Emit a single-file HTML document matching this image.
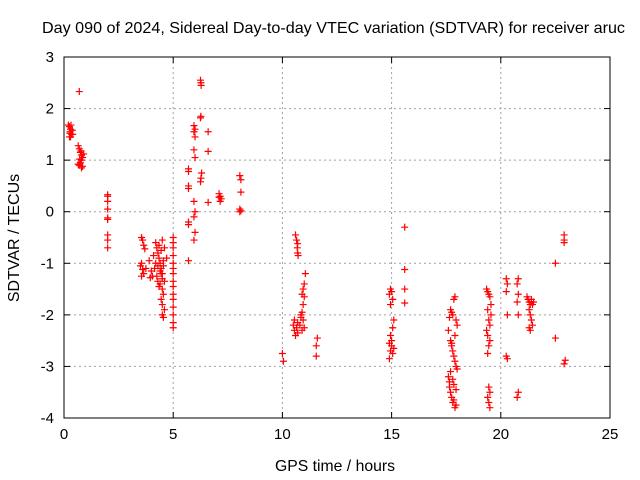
<!DOCTYPE html>
<html><head><meta charset="utf-8"><style>
body{margin:0;background:#fff;width:640px;height:480px;overflow:hidden}
svg{display:block;font-family:"Liberation Sans",sans-serif}
</style></head><body>
<svg id="chart" width="640" height="480">
<text x="42" y="33" font-size="16" textLength="583" lengthAdjust="spacingAndGlyphs">Day 090 of 2024, Sidereal Day-to-day VTEC variation (SDTVAR) for receiver aruc</text>
<text x="335" y="471" font-size="16" text-anchor="middle" textLength="120" lengthAdjust="spacingAndGlyphs">GPS time / hours</text>
<text x="0" y="0" font-size="16" text-anchor="middle" transform="translate(19,238) rotate(-90)">SDTVAR / TECUs</text>
<g id="grid"></g><g id="ticks"></g><g id="marks"></g>
<rect x="64" y="57" width="546" height="361" fill="none" stroke="#000" stroke-width="1"/>
</svg>
<script>
const xTicks=[0,5,10,15,20,25];
const yTicks=[3,2,1,0,-1,-2,-3,-4];
const xs=[0.2,0.25,0.3,0.28,0.35,0.3,0.4,0.25,0.38,0.32,0.27,0.7,
0.65,0.7,0.75,0.8,0.85,0.8,0.75,0.7,0.8,0.65,0.85,0.9,0.78,0.72,
2.0,2.0,2.0,2.0,2.0,2.0,2.0,2.0,2.0,
3.55,3.6,3.65,3.7,3.55,3.5,3.6,3.65,3.55,3.75,3.9,4.0,4.05,3.95,
4.1,4.2,4.25,4.3,4.35,4.4,4.45,4.5,4.2,4.3,4.4,4.5,4.6,4.15,4.25,4.35,4.45,4.55,4.3,4.4,4.5,4.6,4.7,4.35,4.45,4.55,4.5,4.55,4.45,4.5,4.6,4.5,4.55,
5.0,5.0,5.0,5.0,5.0,5.0,5.0,5.0,5.0,5.0,5.0,5.0,5.0,5.0,5.0,
5.7,5.7,5.7,5.7,5.7,5.7,5.7,
5.95,6.0,5.95,6.0,5.95,6.0,5.95,6.0,5.95,6.0,5.95,
6.25,6.27,6.28,6.27,6.25,6.3,6.27,6.25,6.6,6.6,6.6,7.1,7.15,7.2,7.1,7.15,8.05,8.1,8.1,8.05,8.1,8.05,
10.0,10.05,10.6,10.65,10.7,10.68,10.7,10.72,
10.55,10.5,10.55,10.6,10.65,10.7,10.7,10.8,10.85,10.9,10.95,10.9,10.95,11.0,10.95,11.0,10.9,11.05,11.0,10.85,
11.6,11.55,11.55,
14.95,15.0,14.9,15.05,14.95,15.1,15.05,14.95,14.9,15.0,14.95,15.05,14.9,15.1,15.0,
15.6,15.6,15.6,15.6,
17.6,17.65,17.7,17.75,17.8,17.85,17.9,17.95,18.0,17.7,17.75,17.8,17.85,17.9,17.95,17.6,17.65,17.7,17.8,17.9,17.85,17.95,18.0,17.75,17.8,17.85,17.9,17.95,17.65,17.7,17.75,
19.35,19.4,19.45,19.5,19.55,19.4,19.45,19.5,19.35,19.4,19.5,19.45,19.55,19.4,19.45,19.5,19.4,19.45,19.5,
20.25,20.3,20.25,20.3,20.25,20.3,20.8,20.75,20.8,20.75,20.8,20.75,20.8,
21.2,21.25,21.3,21.35,21.4,21.3,21.35,21.4,21.45,21.3,21.35,21.4,21.45,21.5,
22.5,22.5,22.9,22.9,22.9,22.95,22.9];
const ys=[1.68,1.65,1.6,1.55,1.5,1.45,1.5,1.45,1.58,1.68,1.52,2.33,
1.28,1.22,1.15,1.1,1.05,1.0,0.95,0.9,0.85,0.92,0.88,1.12,1.18,1.02,
0.33,0.3,0.2,0.05,-0.12,-0.15,-0.45,-0.55,-0.7,
-0.5,-0.55,-0.65,-0.72,-1.0,-1.05,-1.12,-1.2,-1.25,-1.1,-0.95,-1.15,-1.25,-1.28,
-0.85,-0.6,-0.7,-0.8,-0.9,-1.0,-1.1,-1.2,-1.0,-1.05,-1.15,-1.3,-1.35,-1.1,-1.25,-0.65,-0.75,-0.95,-1.35,-1.4,-0.55,-0.7,-0.9,-1.45,-1.2,-1.05,-1.5,-1.6,-1.7,-1.8,-1.9,-2.0,-2.05,
-0.5,-0.6,-0.7,-0.85,-1.0,-1.1,-1.2,-1.35,-1.45,-1.6,-1.7,-1.85,-2.0,-2.15,-2.25,
0.83,0.78,0.5,0.45,-0.2,-0.25,-0.95,
1.67,1.6,1.55,1.45,1.2,1.05,0.2,0.0,-0.1,-0.4,-0.55,
2.55,2.5,2.45,1.85,1.82,0.75,0.65,0.58,1.55,1.17,0.18,0.35,0.3,0.25,0.28,0.2,0.7,0.62,0.38,0.05,0.02,0.0,
-2.75,-2.9,-0.45,-0.55,-0.62,-0.7,-0.8,-0.85,
-2.1,-2.2,-2.3,-2.4,-2.25,-2.15,-2.35,-2.2,-2.05,-1.95,-1.8,-1.6,-1.5,-1.65,-2.1,-2.25,-2.3,-1.2,-1.4,-2.0,
-2.45,-2.6,-2.8,
-1.5,-1.55,-1.6,-1.7,-1.8,-2.1,-2.25,-2.4,-2.55,-2.6,-2.7,-2.75,-2.85,-2.65,-2.5,
-0.3,-1.12,-1.5,-1.77,
-2.3,-2.05,-1.9,-1.95,-2.0,-1.7,-1.65,-2.1,-2.2,-2.5,-2.6,-2.7,-2.8,-2.9,-3.0,-3.2,-3.3,-3.1,-3.25,-2.4,-3.35,-3.45,-3.05,-3.6,-3.7,-3.65,-3.8,-3.75,-3.4,-3.5,-2.55,
-1.5,-1.55,-1.6,-1.65,-1.8,-1.9,-2.1,-2.2,-2.3,-2.4,-2.5,-2.6,-2.0,-2.75,-3.4,-3.5,-3.6,-3.7,-3.8,
-1.3,-1.4,-1.55,-2.0,-2.8,-2.85,-1.3,-1.4,-1.6,-1.75,-3.5,-3.6,-2.0,
-1.65,-1.7,-1.75,-1.8,-1.75,-1.9,-2.0,-2.1,-2.2,-2.25,-2.3,-1.7,-1.8,-1.75,
-1.0,-2.45,-0.45,-0.55,-0.6,-2.88,-2.95];
const L=64,R=610,T=57,B=418;
function sx(v){return L+(v-0)/(25-0)*(R-L);}
function sy(v){return T+(3-v)/(3+4)*(B-T);}
const NS='http://www.w3.org/2000/svg';
const grid=document.getElementById('grid'),ticks=document.getElementById('ticks'),marks=document.getElementById('marks');
function mk(tag,attrs,parent){const e=document.createElementNS(NS,tag);for(const k in attrs)e.setAttribute(k,attrs[k]);parent.appendChild(e);return e;}
xTicks.forEach(t=>{const x=sx(t);
 if(t>0&&t<25){const g=mk('line',{x1:x,x2:x,y1:T,y2:B,stroke:'#a0a0a0','stroke-dasharray':'2,3'},grid);
 
 }
 mk('line',{x1:x,x2:x,y1:B,y2:B-6,stroke:'#000'},ticks);
 mk('line',{x1:x,x2:x,y1:T,y2:T+6,stroke:'#000'},ticks);
 const tx=mk('text',{x:x,y:B+21,'font-size':15,'text-anchor':'middle'},ticks);tx.textContent=t;
 
 });
yTicks.forEach(t=>{const y=sy(t);
 if(t<3&&t>-4){const g=mk('line',{x1:L,x2:R,y1:y,y2:y,stroke:'#a0a0a0','stroke-dasharray':'2,3'},grid);
 
 }
 mk('line',{x1:L,x2:L+6,y1:y,y2:y,stroke:'#000'},ticks);
 mk('line',{x1:R,x2:R-6,y1:y,y2:y,stroke:'#000'},ticks);
 const tx=mk('text',{x:L-10,y:y+5,'font-size':15,'text-anchor':'end'},ticks);tx.textContent=t;
 
 });
xs.forEach((v,i)=>{const x=sx(v),y=sy(ys[i]);
 const p=mk('path',{d:`M${x-3.5},${y}H${x+3.5}M${x},${y-3.5}V${y+3.5}`,stroke:'#f00','stroke-width':1.2,fill:'none'},marks);
 
 });
</script>
</body></html>
